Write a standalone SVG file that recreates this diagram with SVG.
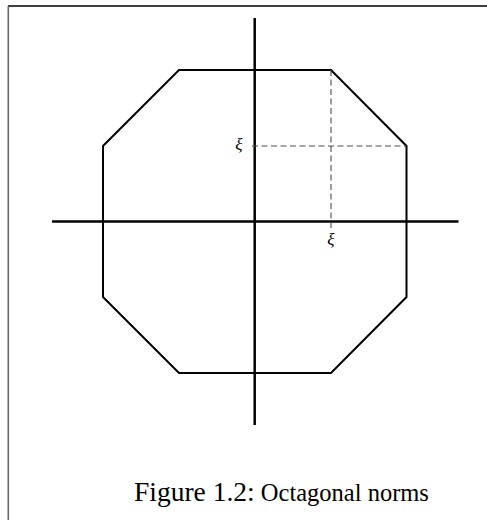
<svg xmlns="http://www.w3.org/2000/svg" width="487" height="520" viewBox="0 0 487 520">
<style>
.oct{fill:none;stroke:#000;stroke-width:2;stroke-linejoin:miter}
.axis{stroke:#000;stroke-width:2.5}
.dash{stroke:#4d4d4d;stroke-width:1.1;stroke-dasharray:6,3.5}
.lbl{font-family:"Liberation Serif",serif;font-style:italic;font-size:17px;fill:#000}
.cap{font-family:"Liberation Serif",serif;fill:#000}
</style>
<rect width="487" height="520" fill="#fff"/>
<g id="frame">
<line x1="8" y1="6" x2="487" y2="6" stroke="#000" stroke-width="1.5"/>
<line x1="8.3" y1="6" x2="8.3" y2="520" stroke="#666" stroke-width="1.6"/>
</g>
<g id="octagon">
<polygon class="oct" points="179,70 331,70 406.5,146 406.5,297 331,373 179,373 103,297 103,146"/>
</g>
<g id="connectors">
<line class="axis" x1="52" y1="221.5" x2="458.5" y2="221.5"/>
<line class="axis" x1="254.7" y1="18" x2="254.7" y2="425"/>
<line class="dash" x1="331" y1="70" x2="331" y2="228"/>
<line class="dash" x1="252" y1="146" x2="406" y2="146"/>
</g>
<g id="labels">
<text class="lbl" x="239" y="150" text-anchor="middle">ξ</text>
<text class="lbl" x="331" y="245" text-anchor="middle">ξ</text>
</g>
<g id="caption">
<text class="cap" x="134" y="501"><tspan font-size="27.5">Figure 1.2:</tspan><tspan font-size="24.5"> Octagonal norms</tspan></text>
</g>
</svg>
